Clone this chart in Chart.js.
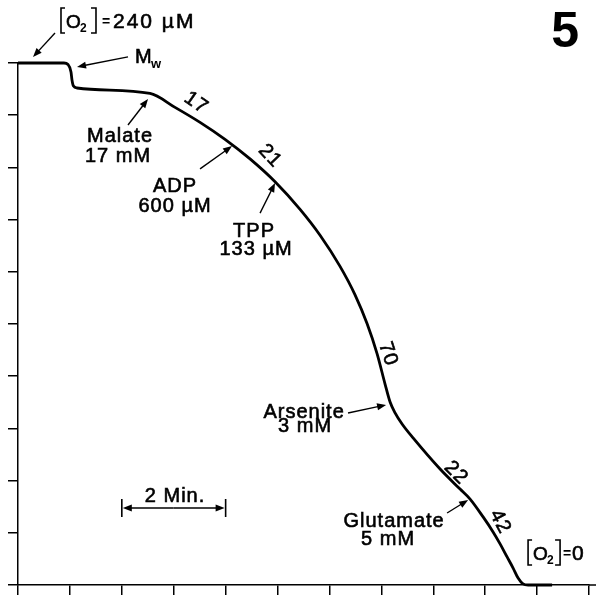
<!DOCTYPE html>
<html>
<head>
<meta charset="utf-8">
<script src="https://cdn.jsdelivr.net/npm/chart.js@4.4.0/dist/chart.umd.min.js"></script>
<style>
  html, body { margin: 0; padding: 0; background: #fff; }
  canvas { display: block; }
</style>
</head>
<body>
<canvas id="trace" width="596" height="597"></canvas>
<script>
// oxygen electrode trace: time in minutes, [O2] in uM
const timeMin = [0, 0.886, 0.963, 1.021, 1.040, 1.069, 1.137, 2.543, 3.025, 3.507, 3.988, 4.470,
  4.952, 5.434, 5.819, 6.204, 6.493, 6.724, 6.917, 7.071, 7.168, 7.264, 7.399, 7.611, 8.131,
  8.516, 8.709, 8.960, 9.152, 9.287, 9.422, 9.538, 9.634, 9.730, 9.827, 10.289];
const o2uM = [240, 240, 239.3, 235.9, 232.2, 229.4, 228.5, 226.0, 219.6, 212.7, 204.9, 195.9,
  185.4, 172.7, 160.8, 146.5, 133.4, 120.2, 106.4, 92.4, 84.1, 79.1, 74.0, 67.6, 53.3,
  44.1, 39.5, 31.3, 24.4, 18.9, 12.9, 7.8, 3.2, 0.5, 0, 0];

const xMax = 11;     // one tick per minute
const yMax = 240;
const yStep = 24;

// additions written beside the trace
const notes = [
  { text: 'Malate', x: 1.965, y: 203.7 },
  { text: '17 mM', x: 1.927, y: 194.5 },
  { text: 'ADP', x: 3.025, y: 180.7 },
  { text: '600 µM', x: 3.025, y: 171.5 },
  { text: 'TPP', x: 4.547, y: 160.0 },
  { text: '133 µM', x: 4.586, y: 151.7 },
  { text: 'Arsenite', x: 5.511, y: 76.8 },
  { text: '3 mM', x: 5.530, y: 70.3 },
  { text: 'Glutamate', x: 7.245, y: 26.7 },
  { text: '5 mM', x: 7.129, y: 18.4 },
  { text: '2 Min.', x: 3.025, y: 38.2 }
];

// respiration rates along the trace
const rates = [
  { text: '17', x: 3.430, y: 221.6, angle: 35 },
  { text: '21', x: 4.855, y: 197.2, angle: 47 },
  { text: '70', x: 7.129, y: 106.2, angle: 72 },
  { text: '22', x: 8.439, y: 51.5, angle: 45 },
  { text: '42', x: 9.287, y: 29.0, angle: 62 }
];

const arrows = [
  { from: [0.713, 253.8], to: [0.289, 242.8] },
  { from: [2.119, 242.8], to: [1.137, 238.2] },
  { from: [2.119, 211.5], to: [2.505, 223.4] },
  { from: [3.507, 191.3], to: [4.123, 201.8] },
  { from: [4.663, 171.0], to: [4.952, 184.8] },
  { from: [6.358, 79.1], to: [7.091, 82.8] },
  { from: [8.266, 33.1], to: [8.671, 39.1] }
];

const FONT = '"Liberation Sans", Arial, sans-serif';

function ink(ctx, text, x, y) {
  ctx.fillText(text, x, y);
  ctx.strokeText(text, x, y);
}

function arrowTo(ctx, x1, y1, x2, y2) {
  const a = Math.atan2(y2 - y1, x2 - x1);
  const len = 9, hw = 3.5;
  ctx.beginPath();
  ctx.moveTo(x1, y1);
  ctx.lineTo(x2 - Math.cos(a) * len * 0.8, y2 - Math.sin(a) * len * 0.8);
  ctx.stroke();
  ctx.beginPath();
  ctx.moveTo(x2, y2);
  ctx.lineTo(x2 - Math.cos(a) * len - Math.sin(a) * hw, y2 - Math.sin(a) * len + Math.cos(a) * hw);
  ctx.lineTo(x2 - Math.cos(a) * len + Math.sin(a) * hw, y2 - Math.sin(a) * len - Math.cos(a) * hw);
  ctx.closePath();
  ctx.fill();
}

// "[O2] = value" with tall brackets
function concLabel(ctx, x, y, value, close, eq, val) {
  ctx.save();
  ctx.textAlign = 'left';
  ctx.lineWidth = 1.6;
  ctx.beginPath();
  ctx.moveTo(x + 5, y - 20); ctx.lineTo(x + 1, y - 20); ctx.lineTo(x + 1, y + 5); ctx.lineTo(x + 5, y + 5);
  ctx.moveTo(x + close - 5, y - 20); ctx.lineTo(x + close, y - 20); ctx.lineTo(x + close, y + 5); ctx.lineTo(x + close - 5, y + 5);
  ctx.stroke();
  ctx.lineWidth = 0.6;
  ctx.font = '19px ' + FONT;
  ink(ctx, 'O', x + 6, y);
  ctx.font = 'bold 12px ' + FONT;
  ctx.fillText('2', x + 20, y + 4);
  ctx.font = 'bold 14px ' + FONT;
  ctx.fillText('=', x + eq, y - 2);
  ctx.font = '21px ' + FONT;
  ctx.letterSpacing = '2px';
  ink(ctx, value, x + val, y);
  ctx.restore();
}

const annotate = {
  id: 'annotate',
  afterDraw(chart) {
    const ctx = chart.ctx;
    const xs = chart.scales.x, ys = chart.scales.y;
    const px = v => xs.getPixelForValue(v);
    const py = v => ys.getPixelForValue(v);
    const area = chart.chartArea;
    ctx.save();
    ctx.fillStyle = '#000';
    ctx.strokeStyle = '#000';

    // bottom axis runs on to the edge
    ctx.lineWidth = 1.5;
    ctx.beginPath();
    ctx.moveTo(area.right, area.bottom);
    ctx.lineTo(chart.width, area.bottom);
    ctx.stroke();

    ctx.font = '20px ' + FONT;
    ctx.letterSpacing = '1px';
    ctx.textAlign = 'center';
    ctx.textBaseline = 'alphabetic';
    ctx.lineWidth = 0.6;

    notes.forEach(n => ink(ctx, n.text, px(n.x), py(n.y)));

    rates.forEach(r => {
      ctx.save();
      ctx.translate(px(r.x), py(r.y));
      ctx.rotate(r.angle * Math.PI / 180);
      ctx.textBaseline = 'middle';
      ink(ctx, r.text, 0, 0);
      ctx.restore();
    });

    ctx.lineWidth = 1.4;
    arrows.forEach(a => arrowTo(ctx, px(a.from[0]), py(a.from[1]), px(a.to[0]), py(a.to[1])));

    // 2 minute scale bar
    const bx1 = px(2), bx2 = px(4), by = py(35.4), mid = (bx1 + bx2) / 2;
    ctx.lineWidth = 1.6;
    ctx.beginPath();
    ctx.moveTo(bx1, by - 9); ctx.lineTo(bx1, by + 9);
    ctx.moveTo(bx2, by - 9); ctx.lineTo(bx2, by + 9);
    ctx.stroke();
    ctx.lineWidth = 1.4;
    arrowTo(ctx, mid, by, bx1 + 1, by);
    arrowTo(ctx, mid, by, bx2 - 1, by);

    // M with subscript w
    ctx.textAlign = 'left';
    ctx.lineWidth = 0.6;
    ctx.font = '20px ' + FONT;
    ink(ctx, 'M', px(2.254), py(240.0));
    ctx.font = 'bold 13px ' + FONT;
    ctx.fillText('w', px(2.254) + 16, py(240.0) + 5);

    concLabel(ctx, px(0.809), py(256.1), '240 µM', 36, 42, 53);
    concLabel(ctx, px(9.807), py(11.5), '0', 33, 36, 45);

    // panel number
    ctx.letterSpacing = '0px';
    ctx.textAlign = 'center';
    ctx.font = 'bold 50px ' + FONT;
    ctx.fillText('5', px(10.54), py(247.4));
    ctx.restore();
  }
};

new Chart(document.getElementById('trace').getContext('2d'), {
  type: 'line',
  data: {
    labels: timeMin,
    datasets: [{
      data: timeMin.map((t, i) => ({ x: t, y: o2uM[i] })),
      borderColor: '#000',
      borderWidth: 2.8,
      pointRadius: 0,
      fill: false,
      cubicInterpolationMode: 'monotone',
      clip: 6
    }]
  },
  options: {
    responsive: false,
    animation: false,
    layout: { padding: { left: 8, top: 63, right: 7, bottom: 2 } },
    plugins: { legend: { display: false }, tooltip: { enabled: false } },
    scales: {
      x: {
        type: 'linear',
        min: 0,
        max: xMax,
        ticks: { stepSize: 1, display: false },
        grid: { drawOnChartArea: false, tickLength: 10, color: '#000', lineWidth: 1.5 },
        border: { color: '#000', width: 1.5 }
      },
      y: {
        min: 0,
        max: yMax,
        ticks: { stepSize: yStep, display: false },
        grid: { drawOnChartArea: false, tickLength: 10, color: '#000', lineWidth: 1.5 },
        border: { color: '#000', width: 1.5 }
      }
    }
  },
  plugins: [annotate]
});
</script>
</body>
</html>
